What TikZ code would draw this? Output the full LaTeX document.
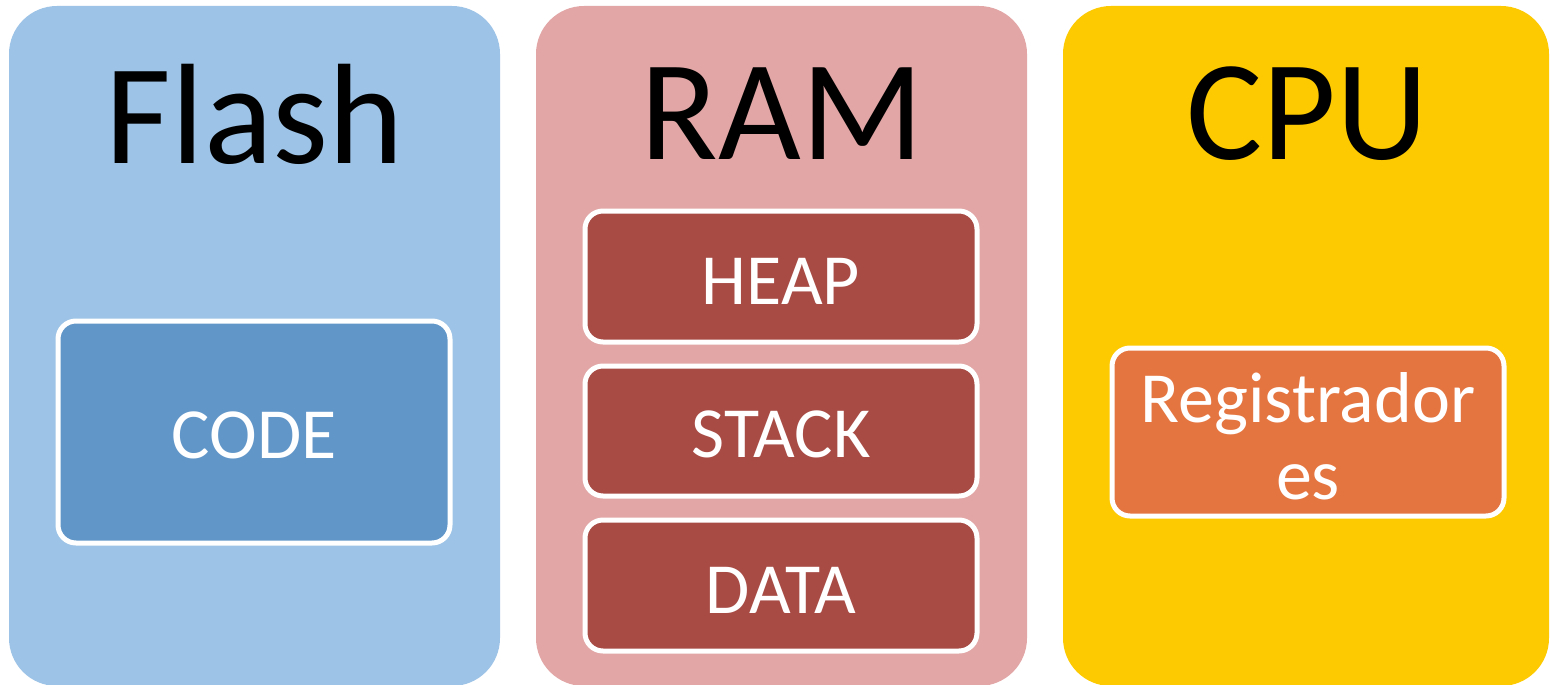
\documentclass[tikz,border=0pt]{standalone}
\usepackage{fontspec}
\setmainfont{Carlito}
\definecolor{flashbg}{HTML}{9DC3E6}
\definecolor{codebg}{HTML}{6196C9}
\definecolor{rambg}{HTML}{E2A6A6}
\definecolor{rambox}{HTML}{A84B45}
\definecolor{cpubg}{HTML}{FDC900}
\definecolor{regbox}{HTML}{E57540}
\tikzset{
  panel/.style={rounded corners=48pt, draw=none, fill=#1},
  inner/.style={rounded corners=18pt, draw=white, line width=5pt, fill=#1},
  title/.style={font=\fontsize{143}{143}\selectfont, text=black, inner sep=0pt},
  label/.style={font=\fontsize{72}{77}\selectfont, text=white, inner sep=0pt, align=center},
}
\begin{document}
\begin{tikzpicture}[x=1pt,y=-1pt]
\useasboundingbox (0,0) rectangle (1550,685);
% panels
\path[panel=flashbg] (9,6) rectangle (500,686);
\path[panel=rambg] (536,6) rectangle (1027,686);
\path[panel=cpubg] (1063,6) rectangle (1549,686);
% titles
\node[title] (tflash) at (255,114) {Flash};
\node[title] (tram) at (782,114) {RAM};
\node[title] (tcpu) at (1307,114) {CPU};
% inner boxes
\draw[inner=codebg] (58,321) rectangle (450,543);
\draw[inner=rambox] (585,211) rectangle (977,342);
\draw[inner=rambox] (585,366) rectangle (977,496);
\draw[inner=rambox] (585,520) rectangle (977,651);
\draw[inner=regbox] (1112,348) rectangle (1504,516);
% labels
\node[label] (code) at (254,435) {CODE};
\node[label] (heap) at (781,281) {HEAP};
\node[label] (stack) at (781,434) {STACK};
\node[label] (data) at (781,590) {DATA};
\node[label] (reg) at (1308,436) {Registrador\\es};
\end{tikzpicture}
\end{document}
